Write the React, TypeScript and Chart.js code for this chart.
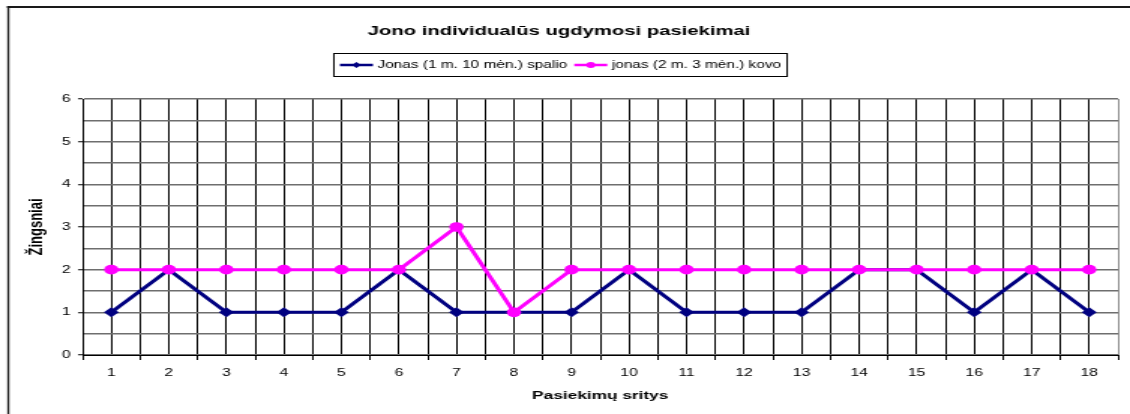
import { useEffect, useRef } from 'react';
import { Chart, registerables } from 'chart.js';

Chart.register(...registerables);

// ---- data ----
const categories = [1, 2, 3, 4, 5, 6, 7, 8, 9, 10, 11, 12, 13, 14, 15, 16, 17, 18];
const jonasSpalio = [1, 2, 1, 1, 1, 2, 1, 1, 1, 2, 1, 1, 1, 2, 2, 1, 2, 1];
const jonasKovo = [2, 2, 2, 2, 2, 2, 3, 1, 2, 2, 2, 2, 2, 2, 2, 2, 2, 2];
const seriesLabels = ['Jonas (1 m. 10 mėn.) spalio', 'jonas (2 m. 3 mėn.) kovo'];
const titleText = 'Jono individualūs ugdymosi pasiekimai';
const xTitleText = 'Pasiekimų sritys';
const yTitleText = 'Žingsniai';
const yMin = 0;
const yMax = 6;

// ---- drawing setup ----
const SCREEN_W = 1130;
const SCREEN_H = 414;
const CANVAS_W = 753;
const K = SCREEN_W / CANVAS_W; // horizontal stretch of the reference picture
const FONT = '"Liberation Sans", Arial, Helvetica, sans-serif';

const frameAndLegend = {
  id: 'frameAndLegend',
  beforeDraw(chart: any) {
    const ctx = chart.ctx;
    ctx.save();
    ctx.fillStyle = '#ffffff';
    ctx.fillRect(0, 0, chart.width, chart.height);
    ctx.strokeStyle = '#1a1a1a';
    ctx.lineWidth = 2;
    ctx.beginPath();
    ctx.moveTo(8 / K - 0.7, 7);
    ctx.lineTo(chart.width, 7);
    ctx.stroke();
    ctx.lineWidth = 1.35;
    ctx.beginPath();
    ctx.moveTo(8.3 / K, 6);
    ctx.lineTo(8.3 / K, chart.height);
    ctx.stroke();
    ctx.restore();
  },
  afterDraw(chart: any) {
    const ctx = chart.ctx;
    const ds = chart.data.datasets;
    ctx.save();
    ctx.font = `10.25px ${FONT}`;
    const pad = 4;
    const lineLen = 22;
    const gap = 3;
    const itemGap = 4.7;
    const widths = ds.map((d: any) => ctx.measureText(d.label).width);
    let total = pad * 2 + itemGap * (ds.length - 1);
    widths.forEach((w: number) => { total += lineLen + gap + w; });
    const cx = 560.5 / K;
    const left = cx - total / 2;
    const top = 53;
    const h = 23;
    ctx.fillStyle = '#ffffff';
    ctx.fillRect(left, top, total, h);
    ctx.strokeStyle = '#000000';
    ctx.lineWidth = 1;
    ctx.strokeRect(left, top + 0.5, total, h);
    let x = left + pad;
    const y = top + h / 2 + 0.5;
    ds.forEach((d: any, i: number) => {
      ctx.strokeStyle = d.borderColor;
      ctx.lineWidth = 2.5;
      ctx.beginPath();
      ctx.moveTo(x, y);
      ctx.lineTo(x + lineLen, y);
      ctx.stroke();
      const mx = x + lineLen / 2;
      ctx.fillStyle = d.pointBackgroundColor;
      ctx.beginPath();
      if (d.pointStyle === 'rectRot') {
        const r = 3;
        ctx.moveTo(mx, y - r);
        ctx.lineTo(mx + r, y);
        ctx.lineTo(mx, y + r);
        ctx.lineTo(mx - r, y);
        ctx.closePath();
      } else {
        ctx.arc(mx, y, 3, 0, Math.PI * 2);
      }
      ctx.fill();
      x += lineLen + gap;
      ctx.fillStyle = '#000000';
      ctx.textAlign = 'left';
      ctx.textBaseline = 'middle';
      ctx.fillText(d.label, x, y);
      x += widths[i] + itemGap;
    });
    ctx.restore();
  },
};

export default function App() {
  const canvasRef = useRef<HTMLCanvasElement | null>(null);

  useEffect(() => {
    const canvas = canvasRef.current;
    if (!canvas) return;
    const chart = new Chart(canvas, {
      type: 'line',
      data: {
        datasets: [
          {
            label: seriesLabels[0],
            data: categories.map((c, i) => ({ x: c, y: jonasSpalio[i] })),
            borderColor: '#000080',
            backgroundColor: '#000080',
            pointBackgroundColor: '#000080',
            pointBorderColor: '#000080',
            pointBorderWidth: 0,
            pointStyle: 'rectRot',
            pointRadius: 5,
            borderWidth: 3,
            tension: 0,
            order: 1,
          },
          {
            label: seriesLabels[1],
            data: categories.map((c, i) => ({ x: c, y: jonasKovo[i] })),
            borderColor: '#ff00ff',
            backgroundColor: '#ff00ff',
            pointBackgroundColor: '#ff00ff',
            pointBorderColor: '#ff00ff',
            pointBorderWidth: 0,
            pointStyle: 'circle',
            pointRadius: 4.8,
            borderWidth: 3,
            tension: 0,
            order: 0,
          },
        ],
      },
      options: {
        animation: false,
        responsive: false,
        maintainAspectRatio: false,
        devicePixelRatio: 1,
        events: [],
        layout: { padding: { top: 0, left: 0, right: 8, bottom: 0 } },
        plugins: {
          legend: { display: false },
          tooltip: { enabled: false },
          title: {
            display: true,
            text: titleText,
            color: '#000000',
            font: { family: FONT, size: 13.5, weight: 'bold' },
            padding: { top: 23, bottom: 59.8 },
          },
        },
        scales: {
          x: {
            type: 'linear',
            min: categories[0] - 0.5,
            max: categories[categories.length - 1] + 0.5,
            afterFit: (s: any) => { s.height = 59; },
            ticks: {
              stepSize: 0.5,
              autoSkip: false,
              maxRotation: 0,
              minRotation: 0,
              padding: 7,
              color: '#000000',
              font: { family: FONT, size: 10.5 },
              callback: (v: any) => (Number.isInteger(v) ? String(v) : ''),
            },
            grid: {
              color: (c: any) => (c.tick && c.tick.value === categories[categories.length - 1] + 0.5 ? '#8c8c8c' : '#000000'),
              lineWidth: 1,
              tickLength: 5,
              tickColor: (c: any) => (c.tick && !Number.isInteger(c.tick.value) ? '#000000' : 'rgba(0,0,0,0)'),
            },
            border: { color: '#000000', width: 1 },
            title: {
              display: true,
              text: xTitleText,
              color: '#000000',
              font: { family: FONT, size: 11.5, weight: 'bold' },
              padding: { top: 0, bottom: 11.1 },
            },
          },
          y: {
            type: 'linear',
            min: yMin,
            max: yMax,
            afterFit: (s: any) => { s.width = 55; },
            ticks: {
              stepSize: 0.5,
              padding: 5,
              color: '#000000',
              font: { family: FONT, size: 10.5 },
              callback: (v: any) => (Number.isInteger(v) ? String(v) : ''),
            },
            grid: {
              color: '#6e6e6e',
              lineWidth: 1.5,
              tickLength: 3,
              tickWidth: 1,
              tickColor: (c: any) => (c.tick && Number.isInteger(c.tick.value) ? '#000000' : 'rgba(0,0,0,0)'),
            },
            border: { color: '#000000', width: 1 },
            title: {
              display: true,
              text: yTitleText,
              color: '#000000',
              font: { family: FONT, size: 13, weight: 'bold' },
              padding: { top: 16.8, bottom: 0 },
            },
          },
        },
      },
      plugins: [frameAndLegend],
    } as any);
    return () => chart.destroy();
  }, []);

  return (
    <div style={{ position: 'fixed', left: 0, top: 0, width: SCREEN_W, height: SCREEN_H, background: '#ffffff', overflow: 'hidden' }}>
      <canvas
        ref={canvasRef}
        width={CANVAS_W}
        height={SCREEN_H}
        style={{ width: `${SCREEN_W}px`, height: `${SCREEN_H}px`, display: 'block' }}
      />
    </div>
  );
}
